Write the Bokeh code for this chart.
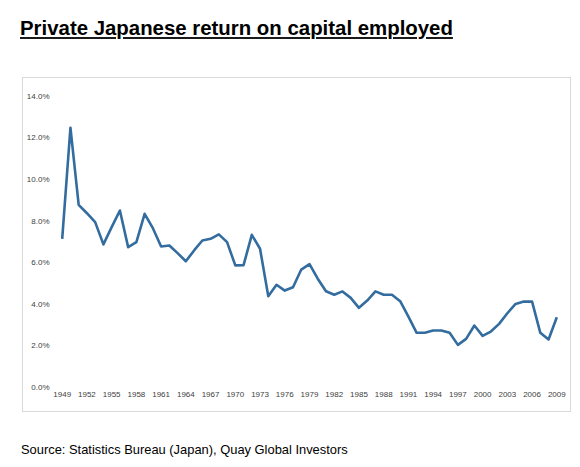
from bokeh.plotting import figure
from bokeh.models import Div, FixedTicker, PrintfTickFormatter, Range1d, ColumnDataSource
from bokeh.layouts import column, row
from bokeh.embed import file_html
from bokeh.resources import INLINE

# ---- data ----
years = list(range(1949, 2010))
roce = [7.15, 12.49, 8.78, 8.38, 7.95, 6.88, 7.71, 8.51, 6.75, 6.99,
        8.35, 7.66, 6.78, 6.83, 6.46, 6.07, 6.59, 7.07, 7.15, 7.36,
        6.99, 5.87, 5.88, 7.34, 6.67, 4.39, 4.94, 4.66, 4.82, 5.67,
        5.93, 5.23, 4.63, 4.46, 4.62, 4.31, 3.83, 4.18, 4.62, 4.46,
        4.46, 4.15, 3.41, 2.63, 2.63, 2.74, 2.74, 2.63, 2.05, 2.34,
        2.98, 2.48, 2.69, 3.06, 3.57, 4.02, 4.13, 4.13, 2.63, 2.31,
        3.38]
x_ticks = list(range(1949, 2010, 3))
y_ticks = [0, 2, 4, 6, 8, 10, 12, 14]
title_text = "Private Japanese return on capital employed"
source_text = "Source: Statistics Bureau (Japan), Quay Global Investors"

src = ColumnDataSource(data=dict(year=years, roce=roce))

p = figure(width=547, height=333, output_backend="svg", toolbar_location=None,
           x_range=Range1d(1947.945, 2010.055), y_range=Range1d(0, 14.28),
           min_border_left=30, min_border_right=5, min_border_top=12, min_border_bottom=24,
           background_fill_color="white", border_fill_color="white",
           margin=0,
           styles={"outline": "1px solid #d9d9d9"})
p.outline_line_color = None
p.grid.visible = False

p.line("year", "roce", source=src, line_color="#336c9e", line_width=2.6,
       line_join="round")

for ax in (p.xaxis[0], p.yaxis[0]):
    ax.axis_line_color = None
    ax.major_tick_line_color = None
    ax.minor_tick_line_color = None
    ax.major_tick_in = 0
    ax.major_tick_out = 0
    ax.major_label_text_color = "#404040"
    ax.major_label_text_font = "Liberation Sans Narrow, Liberation Sans"
    ax.major_label_text_font_size = "8px"
    ax.major_label_standoff = 4

p.xaxis[0].ticker = FixedTicker(ticks=x_ticks)
p.yaxis[0].ticker = FixedTicker(ticks=y_ticks)
p.yaxis[0].formatter = PrintfTickFormatter(format="%.1f%%")
p.xaxis[0].major_label_standoff = 4

title_html = ('<span style="text-decoration: underline; '
              'text-decoration-thickness: 2px; text-underline-offset: 2px; '
              'text-decoration-color: #1a1a1a;">' + title_text + '</span>')
title_div = Div(text=title_html, width=580, height=78, margin=0,
                styles={"font-family": "'Liberation Sans', Arial, sans-serif",
                        "font-size": "20.4px", "font-weight": "bold",
                        "line-height": "20px", "color": "#000000",
                        "padding-top": "18px", "padding-left": "20px",
                        "box-sizing": "border-box", "white-space": "nowrap"})
spacer = Div(text="", width=23, height=333, margin=0)
source_div = Div(text=source_text, width=580, height=56, margin=0,
                 styles={"font-family": "'Liberation Sans', Arial, sans-serif",
                         "font-size": "12.9px", "line-height": "13px",
                         "color": "#000000",
                         "padding-top": "32px", "padding-left": "21px",
                         "box-sizing": "border-box", "white-space": "nowrap"})

layout = column(title_div, row(spacer, p, margin=0), source_div, margin=0)
open("out.html", "w").write(file_html(layout, INLINE))
